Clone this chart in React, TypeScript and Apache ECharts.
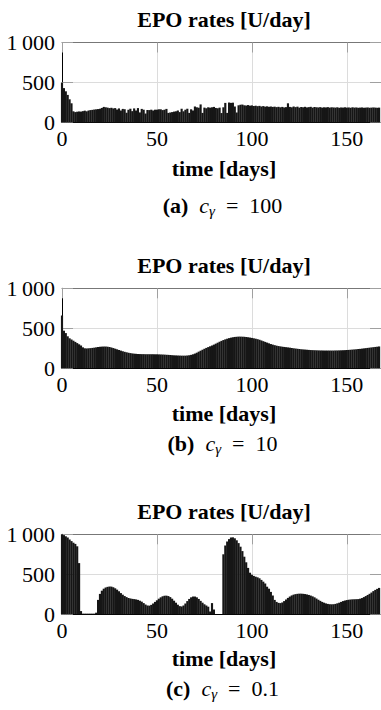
import React, { useEffect, useRef } from "react";
import * as echarts from "echarts";

// time in days (one bar per day)
const days: number[] = Array.from({ length: 168 }, (_, i) => i);

const xTicks = [0, 50, 100, 150];
const yTicks = [0, 500, 1000];

// EPO rates [U/day], c_gamma = 100
const ratesA = [
  500, 430, 390, 345, 290, 240, 140, 130, 135, 138,
  136, 142, 148, 140, 150, 155, 158, 162, 165, 168,
  172, 182, 195, 190, 186, 180, 184, 176, 180, 162,
  176, 150, 170, 166, 122, 160, 172, 142, 176, 150,
  180, 126, 170, 160, 112, 156, 155, 160, 150, 160,
  160, 165, 165, 155, 160, 170, 120, 125, 130, 136,
  140, 150, 130, 172, 140, 160, 172, 120, 165, 150,
  200, 190, 185, 226, 120, 186, 178, 190, 185, 190,
  195, 182, 178, 186, 118, 190, 245, 120, 250, 245,
  248, 200, 125, 215, 222, 224, 215, 212, 218, 210,
  214, 206, 210, 204, 208, 200, 205, 198, 202, 196,
  200, 195, 198, 192, 196, 190, 195, 188, 192, 240,
  195, 190, 200, 192, 198, 186, 194, 190, 196, 188,
  192, 196, 186, 194, 190, 188, 192, 186, 190, 188,
  192, 186, 190, 188, 186, 190, 184, 188, 186, 190,
  186, 188, 184, 190, 186, 188, 184, 186, 188, 184,
  186, 188, 184, 186, 188, 186, 184, 186,
];

// EPO rates [U/day], c_gamma = 10
const ratesB = [
  660, 470, 440, 400, 375, 360, 345, 330, 315, 300,
  285, 262, 250, 248, 250, 252, 255, 258, 262, 266,
  269, 271, 272, 272, 270, 266, 260, 253, 245, 237,
  229, 221, 213, 206, 200, 195, 190, 186, 183, 181,
  179, 178, 177, 177, 176, 176, 176, 176, 176, 175,
  175, 174, 173, 172, 171, 169, 168, 166, 164, 162,
  161, 160, 159, 158, 158, 158, 160, 163, 168, 175,
  184, 195, 208, 220, 232, 244, 255, 265, 275, 285,
  296, 308, 320, 332, 343, 353, 362, 370, 377, 383,
  388, 392, 394, 396, 396, 395, 394, 391, 388, 384,
  380, 375, 370, 364, 357, 348, 339, 330, 321, 312,
  303, 296, 289, 283, 278, 274, 270, 267, 264, 261,
  258, 254, 250, 247, 244, 241, 238, 236, 234, 232,
  230, 228, 227, 226, 225, 224, 223, 223, 222, 222,
  222, 222, 222, 222, 223, 223, 224, 225, 226, 227,
  229, 230, 232, 234, 236, 238, 241, 243, 246, 249,
  252, 255, 258, 261, 264, 267, 270, 273,
];

// EPO rates [U/day], c_gamma = 0.1
const ratesC = [
  1000, 990, 975, 960, 935, 915, 895, 880, 850, 640,
  40, 8, 8, 8, 8, 8, 8, 8, 20, 180,
  255, 295, 320, 335, 343, 347, 346, 338, 325, 308,
  288, 265, 245, 228, 215, 205, 198, 193, 190, 186,
  180, 170, 158, 140, 122, 110, 108, 118, 135, 155,
  175, 195, 212, 225, 232, 233, 228, 215, 195, 170,
  145, 120, 102, 98, 110, 135, 165, 192, 212, 222,
  222, 212, 192, 168, 145, 125, 110, 95, 35, 140,
  60, 0, 0, 0, 0, 750, 860, 910, 940, 960,
  962, 950, 925, 890, 845, 790, 720, 650, 580, 520,
  495, 480, 470, 462, 450, 430, 408, 385, 345, 320,
  280, 235, 180, 155, 143, 140, 148, 165, 185, 205,
  222, 236, 246, 252, 256, 258, 258, 256, 253, 248,
  242, 234, 224, 212, 197, 182, 168, 155, 145, 136,
  130, 126, 125, 126, 130, 137, 145, 155, 165, 172,
  178, 182, 185, 187, 188, 189, 190, 195, 203, 215,
  228, 242, 256, 272, 290, 305, 318, 330,
];

const panelTitle = "EPO rates [U/day]";
const xName = "time [days]";
const captionLetters = ["(a)", "(b)", "(c)"];
const captionValues = ["100", "10", "0.1"];

const FONT = "Liberation Serif";

const panels = [
  { data: ratesA, top: 42.5, timeY: 168.3, capY: 205.5 },
  { data: ratesB, top: 288.3, timeY: 413, capY: 443 },
  { data: ratesC, top: 534.3, timeY: 658, capY: 688.5 },
];

export default function App() {
  const ref = useRef<HTMLDivElement>(null);

  useEffect(() => {
    if (!ref.current) return;
    const chart = echarts.init(ref.current, undefined, { renderer: "svg" });

    const grids: any[] = [];
    const xAxes: any[] = [];
    const yAxes: any[] = [];
    const series: any[] = [];
    const graphics: any[] = [];

    panels.forEach((p, i) => {
      grids.push({ left: 62, right: -5, top: p.top, height: 80, containLabel: false });
      // bottom x axis
      xAxes.push({
        type: "value",
        gridIndex: i,
        position: "bottom",
        min: 0,
        max: 168,
        interval: 50,
        axisLine: { show: true, onZero: false, lineStyle: { color: "#000", width: 1 } },
        axisTick: { show: false },
        splitLine: { show: true, lineStyle: { color: "#dcdcdc", width: 1 } },
        axisLabel: {
          color: "#000",
          fontFamily: FONT,
          fontSize: 22,
          margin: 5,
          showMaxLabel: false,
          formatter: (v: number) => (xTicks.includes(v) ? String(v) : ""),
        },
      });
      // top mirror axis
      xAxes.push({
        type: "value",
        gridIndex: i,
        position: "top",
        min: 0,
        max: 168,
        interval: 50,
        axisLine: { show: true, onZero: false, lineStyle: { color: "#777", width: 1 } },
        axisTick: { show: true, inside: true, length: 10, lineStyle: { color: "#a0a0a0" } },
        axisLabel: { show: false },
        splitLine: { show: false },
      });
      // left y axis
      yAxes.push({
        type: "value",
        gridIndex: i,
        position: "left",
        min: 0,
        max: 1000,
        interval: 500,
        axisLine: { show: true, onZero: false, lineStyle: { color: "#000", width: 1 } },
        axisTick: { show: true, inside: true, length: 11, lineStyle: { color: "#a0a0a0" } },
        splitLine: { show: true, lineStyle: { color: "#dcdcdc", width: 1 } },
        axisLabel: {
          color: "#000",
          fontFamily: FONT,
          fontSize: 22,
          margin: 7,
          formatter: (v: number) =>
            yTicks.includes(v) ? (v >= 1000 ? "1\u2009000" : String(v)) : "",
        },
      });
      // right mirror axis
      yAxes.push({
        type: "value",
        gridIndex: i,
        position: "right",
        min: 0,
        max: 1000,
        interval: 500,
        axisLine: { show: true, onZero: false, lineStyle: { color: "#777", width: 1 } },
        axisTick: { show: true, inside: true, length: 11, lineStyle: { color: "#a0a0a0" } },
        axisLabel: { show: false },
        splitLine: { show: false },
      });

      series.push({
        type: "bar",
        xAxisIndex: 2 * i,
        yAxisIndex: 2 * i,
        data: p.data.map((v, k) => [days[k], v]),
        barWidth: 2.15,
        itemStyle: { color: "#161616" },
        silent: true,
      });

      graphics.push({
        type: "text",
        style: {
          text: panelTitle,
          x: 224,
          y: p.top - 23,
          align: "center",
          verticalAlign: "middle",
          fontFamily: FONT,
          fontWeight: "bold",
          fontSize: 22,
          fill: "#000",
        },
      });
      graphics.push({
        type: "text",
        style: {
          text: xName,
          x: 224,
          y: p.timeY,
          align: "center",
          verticalAlign: "middle",
          fontFamily: FONT,
          fontWeight: "bold",
          fontSize: 22,
          fill: "#000",
        },
      });
      graphics.push({
        type: "text",
        style: {
          text:
            "{b|" + captionLetters[i] + "}{r|  }{i|c}{s|\u03b3}{r|  =  " + captionValues[i] + "}",
          x: 222.5,
          y: p.capY,
          align: "center",
          verticalAlign: "middle",
          fill: "#000",
          fontFamily: FONT,
          fontSize: 22,
          rich: {
            b: { fontFamily: FONT, fontWeight: "bold", fontSize: 22, fill: "#000" },
            r: { fontFamily: FONT, fontSize: 22, fill: "#000" },
            i: { fontFamily: FONT, fontStyle: "italic", fontSize: 22, fill: "#000" },
            s: {
              fontFamily: FONT,
              fontStyle: "italic",
              fontSize: 15,
              fill: "#000",
              padding: [11, 0, 0, 0],
            },
          },
        },
      });
    });

    chart.setOption({
      animation: false,
      backgroundColor: "#fff",
      textStyle: { fontFamily: FONT },
      grid: grids,
      xAxis: xAxes,
      yAxis: yAxes,
      series,
      graphic: graphics,
    });

    return () => chart.dispose();
  }, []);

  return (
    <div
      ref={ref}
      style={{ position: "absolute", left: 0, top: 0, width: 381, height: 710 }}
    />
  );
}
